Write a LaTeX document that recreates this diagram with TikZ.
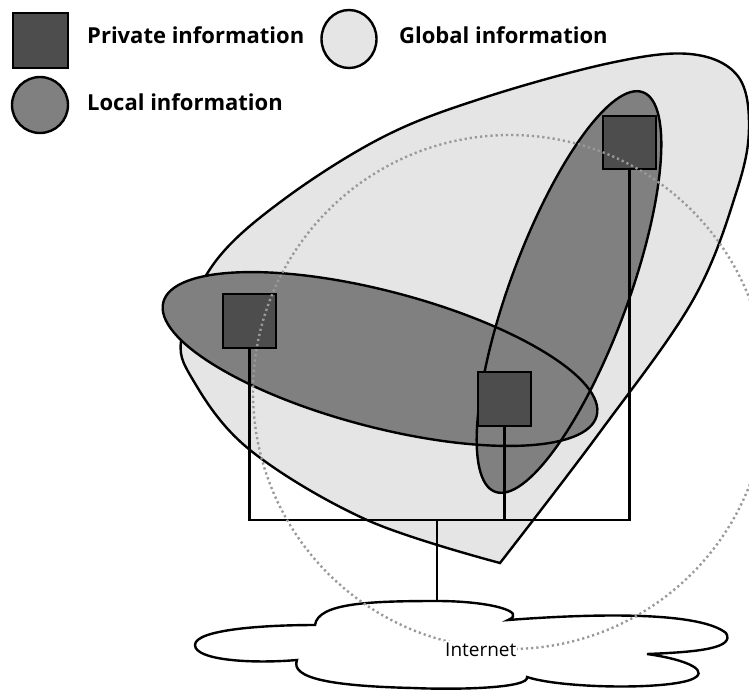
\documentclass[tikz,border=0pt]{standalone}
\usepackage{fontspec}
\setmainfont{Open Sans}
\usetikzlibrary{shapes.geometric}
\definecolor{privc}{HTML}{4D4D4D}
\definecolor{localc}{HTML}{808080}
\definecolor{globc}{HTML}{E5E5E5}
\definecolor{dotc}{HTML}{999999}
\tikzset{
  outl/.style={draw=black, line width=2.4pt},
  privbox/.style={outl, fill=privc, minimum size=53.5pt, inner sep=0pt},
  wire/.style={draw=black, line width=2.4pt},
  legtext/.style={anchor=base west, inner sep=0pt, font=\fontsize{22}{26}\selectfont\bfseries},
  dotcircle/.style={draw=dotc, line width=2.4pt, dash pattern=on 2.2pt off 3pt},
}
\begin{document}
\begin{tikzpicture}[x=1pt,y=-1pt]
\useasboundingbox (0,0) rectangle (749,691);
% legend
\node[privbox, minimum size=55pt] (lp) at (40.5,40.5) {};
\node[legtext] (lpt) at (87,43.3) {Private information};
\node[outl, ellipse, fill=globc, minimum width=55pt, minimum height=58pt, inner sep=0pt] (lg) at (349,39) {};
\node[legtext] (lgt) at (399,43.3) {Global information};
\node[outl, circle, fill=localc, minimum size=56pt, inner sep=0pt] (ll) at (40,105) {};
\node[legtext] (llt) at (87,110) {Local information};
% global blob
\filldraw[outl, fill=globc] plot[smooth, tension=0.6] coordinates {(500,563) (600,432) (693,300) (737,190) (749,125) (737,75) (690,54) (610,63) (483,98) (383,137) (283,200) (215,262) (182,335) (193,380) (250,450) (367,520) (500,563)} -- cycle;
% local ellipses
\fill[localc, rotate around={-14.7:(380,359)}] (380,359) ellipse [x radius=224pt, y radius=68pt];
\fill[localc, rotate around={69.7:(569,292)}] (569,292) ellipse [x radius=213pt, y radius=59pt];
\draw[outl, rotate around={-14.7:(380,359)}] (380,359) ellipse [x radius=224pt, y radius=68pt];
\draw[outl, rotate around={69.7:(569,292)}] (569,292) ellipse [x radius=213pt, y radius=59pt];
% private squares
\node[privbox] (p1) at (249.5,321) {};
\node[privbox] (p2) at (504.5,399) {};
\node[privbox] (p3) at (629.5,142.5) {};
% cloud
\coordinate (inet) at (437,601);
\filldraw[outl, fill=white]
  (315,625) .. controls (318,603) and (370,601) .. (inet)
  .. controls (490,601) and (528,612) .. (508,620)
  .. controls (600,613) and (700,612) .. (726,633)
  .. controls (735,648) and (700,652) .. (647,654)
  .. controls (690,660) and (712,672) .. (690,680)
  .. controls (660,690) and (560,688) .. (527,677)
  .. controls (530,688) and (460,690) .. (413,688)
  .. controls (330,686) and (290,678) .. (297,660)
  .. controls (250,664) and (195,660) .. (195,645)
  .. controls (195,630) and (260,625) .. (315,625) -- cycle;
% wires
\coordinate (j) at (437,520);
\draw[wire] (p1.south) |- (p3.south |- j) -- (p3.south);
\draw[wire] (p2.south) -- (p2.south |- j);
\draw[wire] (j) -- (inet);
% dotted circle
\draw[dotcircle] (510,392) circle [radius=257pt];
\node[anchor=base west, inner sep=1pt, fill=white, font=\fontsize{19}{22}\selectfont] (inettext) at (444,656) {Internet};
\end{tikzpicture}
\end{document}
